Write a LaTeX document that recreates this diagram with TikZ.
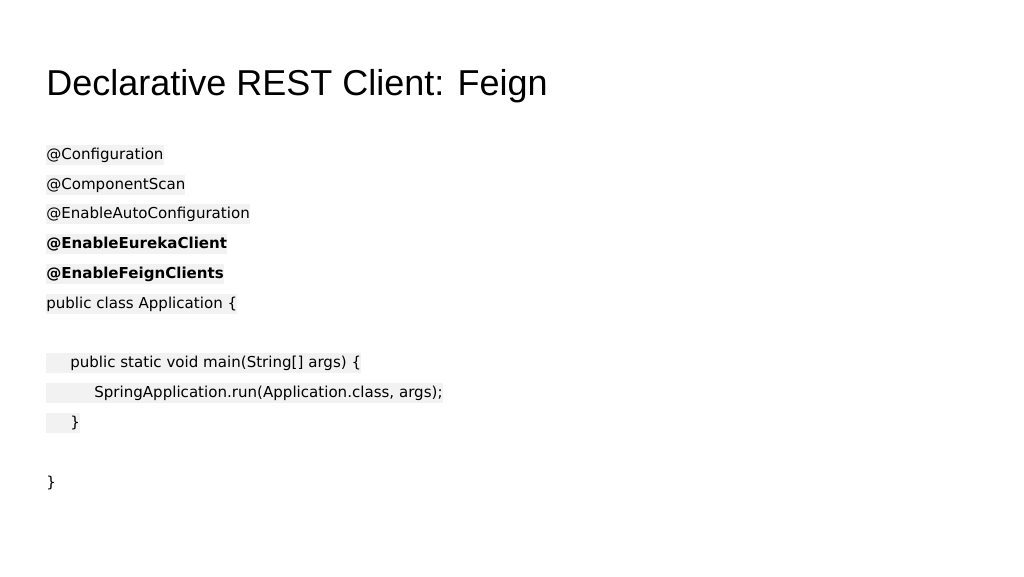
\documentclass[tikz,border=0pt]{standalone}
\usepackage{fontspec}
\setmainfont{DejaVu Sans}
\newfontfamily\titlefont{Liberation Sans}
\begin{document}
\begin{tikzpicture}[x=0.75pt,y=-0.75pt,
  code/.style={anchor=west,fill=black!5,inner xsep=0pt,inner ysep=2pt,font=\fontsize{11.3}{13}\selectfont,text height=9pt,text depth=2.5pt}]
\useasboundingbox (0,0) rectangle (1024,576);
\node[anchor=west,inner sep=0pt,font=\titlefont\fontsize{27}{32}\selectfont] (title) at (46,86) {Declarative REST Client: Feign};
\node[code] (l1) at (46,155) {@Configuration};
\node[code] (l2) at (46,185) {@ComponentScan};
\node[code] (l3) at (46,214) {@EnableAutoConfiguration};
\node[code] (l4) at (46,244) {\textbf{@EnableEurekaClient}};
\node[code] (l5) at (46,274) {\textbf{@EnableFeignClients}};
\node[code] (l6) at (46,304) {public class Application \{};
\node[code] (l7) at (46,363) {\hspace*{23.5\pgflinewidth}\hspace*{-23.5\pgflinewidth}\hspace*{18pt}public static void main(String[] args) \{};
\node[code] (l8) at (46,393) {\hspace*{36pt}SpringApplication.run(Application.class, args);};
\node[code] (l9) at (46,423) {\hspace*{18pt}\}};
\node[code,fill=none] (l10) at (46,483) {\}};
\end{tikzpicture}
\end{document}
